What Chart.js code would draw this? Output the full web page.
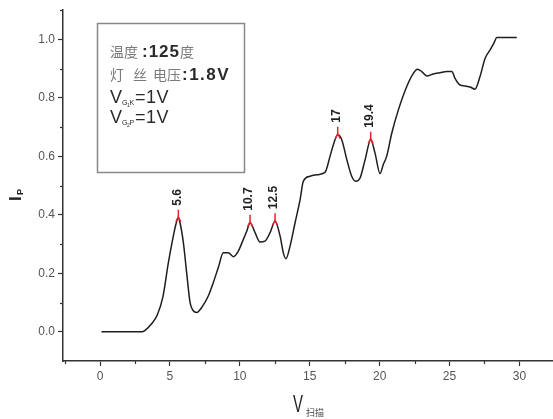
<!DOCTYPE html>
<html>
<head>
<meta charset="utf-8">
<script src="https://cdn.jsdelivr.net/npm/chart.js@4/dist/chart.umd.min.js"></script>
<style>
html, body { margin: 0; padding: 0; background: #fff; }
#wrap { width: 553px; height: 419px; }
</style>
</head>
<body>
<div id="wrap"><canvas id="graph-canvas" width="553" height="419"></canvas></div>
<script>
// scan voltage (V) and plate current Ip
const scanV = [0.1, 1.0, 2.0, 3.0, 3.2, 3.7, 4.1, 4.5, 4.89, 5.24, 5.45, 5.6, 5.72, 5.96, 6.2, 6.44, 6.67, 6.92, 7.27, 7.75,
    8.1, 8.46, 8.82, 9.18, 9.54, 9.89, 10.25, 10.5, 10.73, 11.09, 11.44, 11.8, 12.16, 12.52, 12.88, 13.11, 13.3, 13.59, 13.95, 14.31,
    14.54, 15.02, 15.5, 16.09, 16.45, 16.69, 17.0, 17.29, 17.65, 18.0, 18.29, 18.6, 18.96, 19.36, 19.67, 20.03, 20.26, 20.5, 20.87, 21.34,
    21.94, 22.41, 22.7, 23.01, 23.37, 23.84, 24.32, 24.8, 25.16, 25.39, 25.75, 26.11, 26.47, 26.82, 27.18, 27.54, 27.9, 28.2, 28.38, 29.0, 29.81]
const plateI = [0, 0, 0, 0, 0.004, 0.028, 0.058, 0.12, 0.237, 0.327, 0.372, 0.39, 0.373, 0.305, 0.2, 0.1, 0.072, 0.066, 0.083, 0.123,
    0.168, 0.22, 0.27, 0.27, 0.257, 0.276, 0.316, 0.345, 0.373, 0.339, 0.307, 0.31, 0.339, 0.378, 0.327, 0.27, 0.25, 0.293, 0.373, 0.452,
    0.515, 0.532, 0.537, 0.545, 0.6, 0.64, 0.674, 0.657, 0.589, 0.532, 0.515, 0.526, 0.589, 0.657, 0.611, 0.541, 0.572, 0.6, 0.68, 0.759,
    0.839, 0.884, 0.898, 0.89, 0.875, 0.882, 0.886, 0.89, 0.89, 0.867, 0.844, 0.841, 0.837, 0.83, 0.873, 0.935, 0.964, 0.99, 1.007, 1.007, 1.007]

// marked peaks
const peakV = [5.6, 10.73, 12.52, 17.0, 19.36]
const peakI = [0.39, 0.373, 0.378, 0.674, 0.657]
const peakLabels = ['5.6', '10.7', '12.5', '17', '19.4']

// axis ticks
const xTickValues = [0, 5, 10, 15, 20, 25, 30]
const xMinorValues = [-2.5, 2.5, 7.5, 12.5, 17.5, 22.5, 27.5]
const yTickValues = [0, 0.2, 0.4, 0.6, 0.8, 1.0]
const yMinorValues = [0.1, 0.3, 0.5, 0.7, 0.9, 1.1]

const SANS = 'Arial, "Liberation Sans", sans-serif'
const CJK = '"Noto Sans CJK SC", sans-serif'
const AXIS = '#333'

drawLine = (ctx, x1, y1, x2, y2) => {
    ctx.beginPath()
    ctx.moveTo(x1, y1)
    ctx.lineTo(x2, y2)
    ctx.stroke()
}

// draws text and returns the x where it ends
drawText = (ctx, text, x, y, font, color, spacing) => {
    ctx.font = font
    ctx.fillStyle = color
    ctx.letterSpacing = (spacing || 0) + 'px'
    ctx.fillText(text, x, y)
    const w = ctx.measureText(text).width
    ctx.letterSpacing = '0px'
    return x + w
}

const extras = {
    id: 'extras',
    afterDraw(chart) {
        const ctx = chart.ctx
        const area = chart.chartArea
        const xs = chart.scales.x
        const ys = chart.scales.y
        ctx.save()

        // minor ticks
        ctx.strokeStyle = AXIS
        ctx.lineWidth = 1.2
        xMinorValues.forEach(v => {
            const p = Math.round(xs.getPixelForValue(v)) + 0.5
            drawLine(ctx, p, area.bottom, p, area.bottom + 3)
        })
        yMinorValues.forEach(v => {
            const p = Math.round(ys.getPixelForValue(v)) + 0.5
            drawLine(ctx, area.left - 3, p, area.left, p)
        })

        // peak markers and labels
        peakV.forEach((v, i) => {
            const px = xs.getPixelForValue(v)
            const py = ys.getPixelForValue(peakI[i])
            ctx.strokeStyle = '#e3262e'
            ctx.lineWidth = 1.5
            drawLine(ctx, px, py - 8, px, py + 1)
            drawLine(ctx, px, py - 1, px - 2.5, py + 4)
            drawLine(ctx, px, py - 1, px + 2.5, py + 4)
            ctx.save()
            ctx.translate(px - 1, py - 12)
            ctx.rotate(-Math.PI / 2)
            ctx.textAlign = 'left'
            ctx.textBaseline = 'middle'
            drawText(ctx, peakLabels[i], 0, 0, 'bold 12px ' + SANS, '#222')
            ctx.restore()
        })

        // y title  I_P
        ctx.save()
        ctx.translate(16, 201)
        ctx.rotate(-Math.PI / 2)
        ctx.textAlign = 'left'
        ctx.textBaseline = 'middle'
        drawText(ctx, 'I', 0, 0, 'bold 17px ' + SANS, '#222')
        drawText(ctx, 'P', 6, 5, 'bold 9px ' + SANS, '#222')
        ctx.restore()

        // x title  V_扫描
        ctx.save()
        ctx.textBaseline = 'alphabetic'
        ctx.textAlign = 'left'
        ctx.translate(293, 411.5)
        ctx.scale(0.65, 1)
        drawText(ctx, 'V', 0, 0, '23px ' + SANS, '#222')
        ctx.restore()
        ctx.textBaseline = 'alphabetic'
        drawText(ctx, '扫描', 306, 416, '9px ' + CJK, '#444')

        // legend box
        ctx.strokeStyle = '#888'
        ctx.lineWidth = 1.5
        ctx.strokeRect(97.5, 23.5, 147, 149)

        ctx.textBaseline = 'middle'
        const gray = '#7a7a7a'
        const dark = '#2a2a2a'
        let x = drawText(ctx, '温度', 110, 52, '14px ' + CJK, gray)
        x = drawText(ctx, ':125', x + 4, 52, 'bold 17px ' + SANS, dark, 1)
        drawText(ctx, '度', x, 52, '14px ' + CJK, gray)

        drawText(ctx, '灯', 110, 75, '14px ' + CJK, gray)
        drawText(ctx, '丝', 133, 75, '14px ' + CJK, gray)
        x = drawText(ctx, '电压', 153, 75, '14px ' + CJK, gray)
        drawText(ctx, ':1.8V', x + 1, 75, 'bold 17px ' + SANS, dark, 1.5)

        const vRows = [[98, '1', 'K'], [118, '2', 'P']]
        vRows.forEach(r => {
            const y = r[0]
            drawText(ctx, 'V', 110, y, '18px ' + SANS, dark)
            drawText(ctx, 'G', 122, y + 5, '7px ' + SANS, dark)
            drawText(ctx, r[1], 127, y + 8, '5px ' + SANS, dark)
            drawText(ctx, r[2], 129.5, y + 5, '7px ' + SANS, dark)
            drawText(ctx, '=1V', 135, y, '18px ' + SANS, dark, 0.5)
        })

        ctx.restore()
    }
}

createChart = () => {
    const points = scanV.map((v, i) => ({ x: v, y: plateI[i] }))
    new Chart(document.getElementById('graph-canvas'), {
        type: 'line',
        data: {
            datasets: [{
                data: points,
                borderColor: '#1e1e1e',
                borderWidth: 1.5,
                pointRadius: 0,
                cubicInterpolationMode: 'monotone',
                fill: false
            }]
        },
        options: {
            responsive: false,
            animation: false,
            devicePixelRatio: 1,
            layout: { padding: { top: 10, left: 0, right: 0, bottom: 0 } },
            plugins: { legend: { display: false }, tooltip: { enabled: false } },
            scales: {
                x: {
                    type: 'linear',
                    min: -2.65,
                    max: 32.4,
                    afterFit: (s) => { s.height = 58 },
                    afterBuildTicks: (s) => { s.ticks = xTickValues.map(v => ({ value: v })) },
                    grid: { drawOnChartArea: false, drawTicks: true, tickLength: 5, tickColor: AXIS, tickWidth: 1.2 },
                    border: { display: true, color: AXIS, width: 1.5 },
                    ticks: { color: '#555', font: { family: SANS, size: 12 }, padding: 3, maxRotation: 0 }
                },
                y: {
                    type: 'linear',
                    min: -0.1,
                    max: 1.1,
                    afterFit: (s) => { s.width = 63 },
                    afterBuildTicks: (s) => { s.ticks = yTickValues.map(v => ({ value: v })) },
                    grid: { drawOnChartArea: false, drawTicks: true, tickLength: 5, tickColor: AXIS, tickWidth: 1.2 },
                    border: { display: true, color: AXIS, width: 1.5 },
                    ticks: { color: '#555', font: { family: SANS, size: 12 }, padding: 3, callback: (v) => v.toFixed(1) }
                }
            }
        },
        plugins: [extras]
    })
}

createChart()
</script>
</body>
</html>
